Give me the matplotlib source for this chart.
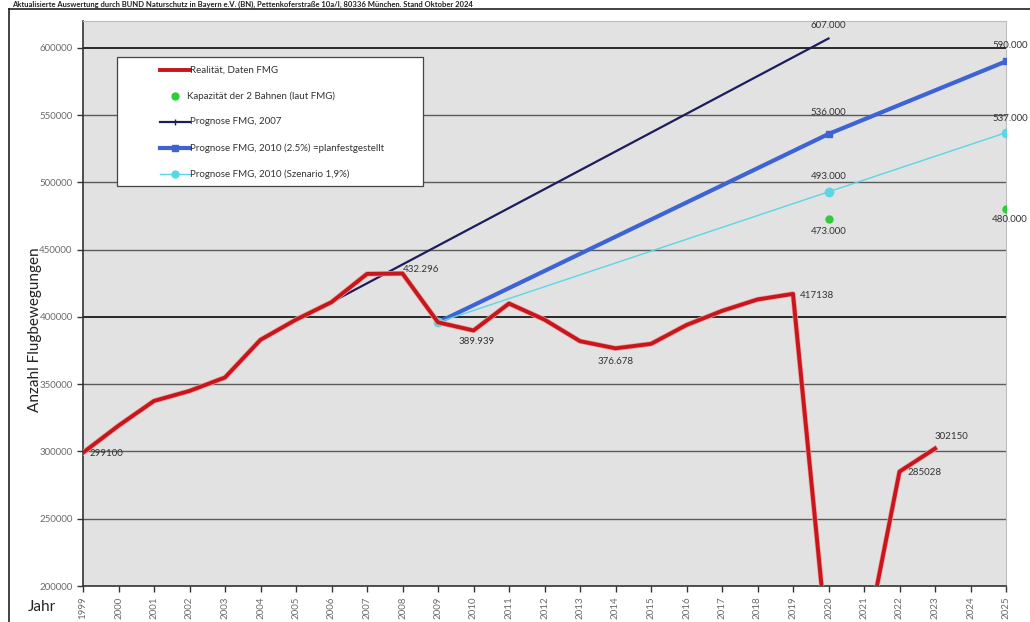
import matplotlib.pyplot as plt
import matplotlib.patheffects as pe
from matplotlib.patches import Rectangle
from matplotlib.lines import Line2D

plt.rcParams['font.family'] = ['Lato', 'DejaVu Sans']

# Flugbewegungen am Flughafen München (Daten FMG)
years = list(range(1999, 2024))
movements = [299100, 319174, 337573, 345000, 355000, 383000, 398000, 411000,
             432000, 432296, 396000, 389939, 410000, 398000, 382000, 376678,
             380000, 394000, 404500, 413000, 417138, 147000, 151000, 285028,
             302150]

# Prognosen und Kapazität
prog07_years = [2006, 2020]
prog07_values = [411000, 607000]
prog10_years = [2009, 2020, 2025]
prog10_values = [396000, 536000, 590000]
scen_years = [2009, 2020, 2025]
scen_values = [396000, 493000, 537000]
cap_years = [2020, 2025]
cap_values = [473000, 480000]

legend_labels = ['Realität, Daten FMG', 'Kapazität der 2 Bahnen (laut FMG)',
                 'Prognose FMG, 2007', 'Prognose FMG, 2010 (2.5%) =planfestgestellt',
                 'Prognose FMG, 2010 (Szenario 1,9%)']

RED = '#c8161d'
NAVY = '#1d1d5e'
BLUE = '#3d63d4'
CYAN = '#5ad6e4'
GREEN = '#31cc3a'
TXT = '#333333'

fig = plt.figure(figsize=(10.3, 6.22), dpi=100)
ax = fig.add_axes([83 / 1030, 1 - 586 / 622, 923 / 1030, 565 / 622])
ax.set_facecolor('#e2e2e2')
ax.set_xlim(1999, 2025)
ax.set_ylim(200000, 620000)

# horizontal grid lines
for v in range(250000, 600001, 50000):
    dark = v in (400000, 600000)
    ax.axhline(v, color='#1a1a1a' if dark else '#5a5a5a', lw=1.3 if dark else 1.0, zorder=1)

ax.plot(prog07_years, prog07_values, color=NAVY, lw=1.6, zorder=3)
ax.plot(prog10_years, prog10_values, color=BLUE, lw=3, marker='s', ms=5, zorder=4)
ax.plot(scen_years, scen_values, color=CYAN, lw=1, marker='o', ms=6, zorder=5)
ax.plot(cap_years, cap_values, ls='none', marker='o', ms=5, color=GREEN, zorder=5)
ax.plot(years, movements, color=RED, lw=2.8, zorder=6, clip_on=True,
        path_effects=[pe.Stroke(linewidth=3.8, foreground='#f0a0a0'), pe.Normal()])

def note(x, y, s, dx, dy, ha='left', va='center'):
    ax.annotate(s, (x, y), xytext=(dx, dy), textcoords='offset pixels',
                ha=ha, va=va, fontsize=7, color=TXT, zorder=8, annotation_clip=False)

idx = {y: i for i, y in enumerate(years)}
note(1999, movements[idx[1999]], '299100', 6, -1)
note(2008, movements[idx[2008]], '432.296', 0, 4)
note(2010, movements[idx[2010]], '389.939', 3, -11, ha='center')
note(2014, movements[idx[2014]], '376.678', 0, -13, ha='center')
note(2019, movements[idx[2019]], '417138', 7, -2)
note(2022, movements[idx[2022]], '285028', 8, -1)
note(2023, movements[idx[2023]], '302150', 0, 12)
note(2020, prog07_values[1], '607.000', 0, 13, ha='center')
note(2020, prog10_values[1], '536.000', 0, 22, ha='center')
note(2020, scen_values[1], '493.000', 0, 15, ha='center')
note(2020, cap_values[0], '473.000', 0, -13, ha='center')
# labels at the right edge end just inside the figure
note(2025, prog10_values[2], '590.000', 22, 16, ha='right')
note(2025, scen_values[2], '537.000', 22, 14, ha='right')
note(2025, cap_values[1], '480.000', 22, -10, ha='right')

# axes styling
ax.set_yticks(range(200000, 600001, 50000))
ax.set_yticklabels([str(v) for v in range(200000, 600001, 50000)])
ax.set_xticks(range(1999, 2026))
ax.set_xticklabels([str(y) for y in range(1999, 2026)], rotation=90)
ax.tick_params(axis='both', labelsize=7, colors='#333333', labelcolor='#6b6b6b',
               length=4, width=1, direction='out')
for side in ('top', 'right'):
    ax.spines[side].set_color('#bdbdbd')
    ax.spines[side].set_linewidth(0.8)
for side in ('left', 'bottom'):
    ax.spines[side].set_color('#333333')
    ax.spines[side].set_linewidth(1.2)

fig.text(35 / 1030, 1 - 330 / 622, 'Anzahl Flugbewegungen', rotation=90,
         ha='center', va='center', fontsize=11, color='#222222')
fig.text(28 / 1030, 1 - 607 / 622, 'Jahr', ha='left', va='center', fontsize=11, color='#222222')

# legend box
def ax_xy(px, py):
    return (px - 83) / 923, (586 - py) / 565

x0, y0 = ax_xy(117, 186)
x1, y1 = ax_xy(423, 57)
ax.add_patch(Rectangle((x0, y0), x1 - x0, y1 - y0, transform=ax.transAxes,
                       facecolor='white', edgecolor='#444444', lw=0.9, zorder=9))
rows = [70, 96, 122, 148, 174]
hx0, hx1 = ax_xy(160, 0)[0], ax_xy(190, 0)[0]
hmid = (hx0 + hx1) / 2
tx = ax_xy(190, 0)[0]
ry = [ax_xy(0, r)[1] for r in rows]
ax.add_line(Line2D([hx0, hx1], [ry[0]] * 2, color=RED, lw=2.8, transform=ax.transAxes, zorder=10))
ax.add_line(Line2D([hmid], [ry[1]], marker='o', ms=5, color=GREEN, transform=ax.transAxes, zorder=10))
ax.add_line(Line2D([hx0, hx1], [ry[2]] * 2, color=NAVY, lw=1.6, transform=ax.transAxes, zorder=10))
ax.add_line(Line2D([hmid], [ry[2]], marker='|', ms=4, color=NAVY, transform=ax.transAxes, zorder=10))
ax.add_line(Line2D([hx0, hx1], [ry[3]] * 2, color=BLUE, lw=3, transform=ax.transAxes, zorder=10))
ax.add_line(Line2D([hmid], [ry[3]], marker='s', ms=5, color=BLUE, transform=ax.transAxes, zorder=10))
ax.add_line(Line2D([hx0, hx1], [ry[4]] * 2, color=CYAN, lw=1, transform=ax.transAxes, zorder=10))
ax.add_line(Line2D([hmid], [ry[4]], marker='o', ms=5, color=CYAN, transform=ax.transAxes, zorder=10))
for i, (r, lab) in enumerate(zip(ry, legend_labels)):
    ax.text(tx if i != 1 else ax_xy(187, 0)[0], r, lab, transform=ax.transAxes,
            ha='left', va='center', fontsize=7, color=TXT, zorder=11)

# outer frame and header line
fig.add_artist(Line2D([9 / 1030, 1], [1 - 9 / 622] * 2, color='#222222', lw=1.2))
fig.add_artist(Line2D([9 / 1030] * 2, [0, 1 - 9 / 622], color='#222222', lw=1.2))
fig.text(12 / 1030, 1 - 0.5 / 622,
         'Aktualisierte Auswertung durch BUND Naturschutz in Bayern e.V. (BN), '
         'Pettenkoferstraße 10a/I, 80336 München. Stand Oktober 2024',
         ha='left', va='top', fontsize=5.5, fontweight='bold', color='#222222')

fig.savefig('out.png', dpi=100)
